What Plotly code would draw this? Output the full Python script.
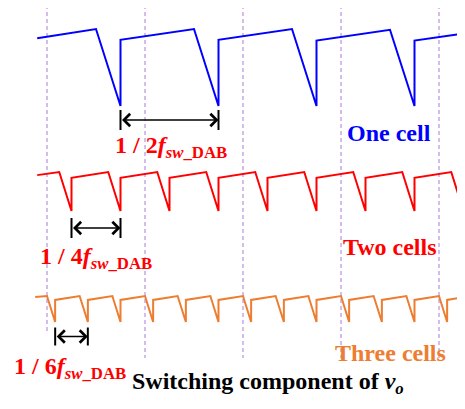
import plotly.graph_objects as go

W, H = 465, 409

# time axis in units of the one-cell ripple period (1/2 f_sw_DAB); values normalised 0..1
blue_t = [-0.10, 0.50, 0.75, 0.75, 1.50, 1.75, 1.75, 2.50, 2.75, 2.75, 3.50, 3.75, 3.75, 4.24]
blue_v = [0.88, 1.00, 0.00, 0.86, 1.00, 0.00, 0.86, 1.00, 0.00, 0.85, 0.99, 0.00, 0.85, 0.94]

red_t = [-0.10, 0.125, 0.25, 0.25, 0.625, 0.75, 0.75, 1.125, 1.25, 1.25, 1.625, 1.75, 1.75,
         2.125, 2.25, 2.25, 2.625, 2.75, 2.75, 3.125, 3.25, 3.25, 3.625, 3.75, 3.75, 4.125, 4.25]
red_v = [0.92, 1.00, 0.00, 0.85, 1.00, 0.00, 0.85, 1.00, 0.00, 0.85, 1.00, 0.00, 0.85,
         1.00, 0.00, 0.85, 1.00, 0.00, 0.85, 1.00, 0.00, 0.85, 1.00, 0.00, 0.85, 1.00, 0.00]

orange_t = [-0.12, 0.000, 0.083, 0.083, 0.333, 0.417, 0.417, 0.667, 0.750, 0.750,
            1.000, 1.083, 1.083, 1.333, 1.417, 1.417, 1.667, 1.750, 1.750,
            2.000, 2.083, 2.083, 2.333, 2.417, 2.417, 2.667, 2.750, 2.750,
            3.000, 3.083, 3.083, 3.333, 3.417, 3.417, 3.667, 3.750, 3.750,
            4.000, 4.083, 4.083, 4.245]
orange_v = [0.96, 1.00, 0.00, 0.85, 1.00, 0.00, 0.85, 1.00, 0.00, 0.85,
            1.00, 0.00, 0.85, 1.00, 0.00, 0.85, 1.00, 0.00, 0.85,
            1.00, 0.00, 0.85, 1.00, 0.00, 0.85, 1.00, 0.00, 0.85,
            1.00, 0.00, 0.85, 1.00, 0.00, 0.85, 1.00, 0.00, 0.85,
            1.00, 0.00, 0.85, 0.95]

dashed_t = [0, 1, 2, 3, 4]

# period intervals marked by the arrows (start, end) in time units
blue_interval = [0.75, 1.75]
red_interval = [0.25, 0.75]
orange_interval = [1 / 12, 5 / 12]

names = ["One cell", "Two cells", "Three cells"]
labels = ["1 / 2", "1 / 4", "1 / 6"]
title = "Switching component of "

BLUE, RED, ORANGE = "#0000FF", "#FF0000", "#ED7D31"
PURPLE = "rgb(170,125,220)"
FONT = "Liberation Serif"

# ---- layout geometry (reference pixel anchors; page body margin compensated) ----
OFF = 8.0
X0, XS = 47.0 - OFF, 98.0          # pixel of t=0, pixels per unit t
anch = {"y": (106.0 - OFF, 29.0 - OFF), "y2": (211.0 - OFF, 172.0 - OFF), "y3": (322.0 - OFF, 296.0 - OFF)}


def yrange(key):
    p0, p1 = anch[key]
    s = p0 - p1
    return [(p0 - H) / s, p0 / s]


def v_of(key, px):
    p0, p1 = anch[key]
    return (p0 - (px - OFF)) / (p0 - p1)


def xp(px):
    return (px - OFF) / W


def yp(px):
    return 1 - (px - OFF) / H


fig = go.Figure()
fig.add_trace(go.Scatter(x=blue_t, y=blue_v, mode="lines", line=dict(color=BLUE, width=2), yaxis="y"))
fig.add_trace(go.Scatter(x=red_t, y=red_v, mode="lines", line=dict(color=RED, width=2), yaxis="y2"))
fig.add_trace(go.Scatter(x=orange_t, y=orange_v, mode="lines", line=dict(color=ORANGE, width=2), yaxis="y3"))

shapes = []
for t in dashed_t:
    bottom = 333 if t == dashed_t[0] else 358
    shapes.append(dict(type="line", xref="x", yref="paper", x0=t, x1=t, y0=yp(5), y1=yp(bottom),
                       line=dict(color=PURPLE, width=1, dash="4px,3px"), layer="below"))

annotations = []
arrow_specs = [("y", blue_interval, 120, 10), ("y2", red_interval, 228, 10), ("y3", orange_interval, 336.5, 9)]
for key, (ta, tb), ypx, half in arrow_specs:
    v = v_of(key, ypx)
    for t in (ta, tb):
        shapes.append(dict(type="line", xref="x", yref=key, x0=t, x1=t,
                           y0=v_of(key, ypx - half), y1=v_of(key, ypx + half),
                           line=dict(color="black", width=2)))
    annotations.append(dict(x=tb, y=v, ax=ta, ay=v, xref="x", yref=key, axref="x", ayref=key,
                            text="", showarrow=True, arrowside="end+start",
                            arrowhead=4, startarrowhead=4, arrowsize=1.6, startarrowsize=1.6,
                            arrowwidth=1.5, arrowcolor="black", standoff=0, startstandoff=0))

lab_pos = [(170.5, 147), (96, 258), (70.5, 368)]
for lab, (cx, cy) in zip(labels, lab_pos):
    annotations.append(dict(xref="paper", yref="paper", x=xp(cx), y=yp(cy), xanchor="center", yanchor="middle",
                            showarrow=False,
                            text=f"<b>{lab}<i>f</i><sub><i>sw</i>_DAB</sub></b>",
                            font=dict(family=FONT, size=24, color=RED)))

name_pos = [(388.5, 133, BLUE), (390, 246.5, RED), (390, 353, ORANGE)]
for nm, (cx, cy, col) in zip(names, name_pos):
    annotations.append(dict(xref="paper", yref="paper", x=xp(cx), y=yp(cy), xanchor="center", yanchor="middle",
                            showarrow=False, text=f"<b>{nm}</b>",
                            font=dict(family=FONT, size=24, color=col)))

annotations.append(dict(xref="paper", yref="paper", x=xp(267.5), y=yp(383), xanchor="center", yanchor="middle",
                        showarrow=False, text=f"<b>{title}<i>v</i><sub><i>o</i></sub></b>",
                        font=dict(family=FONT, size=24, color="black")))

axis_common = dict(visible=False, showgrid=False, zeroline=False, fixedrange=True)
fig.update_layout(
    width=W, height=H, margin=dict(l=0, r=0, t=0, b=0),
    paper_bgcolor="white", plot_bgcolor="white", showlegend=False,
    font=dict(family=FONT),
    xaxis=dict(domain=[0, 1], range=[(0 - X0) / XS, (W - X0) / XS], **axis_common),
    yaxis=dict(domain=[0, 1], range=yrange("y"), **axis_common),
    yaxis2=dict(domain=[0, 1], range=yrange("y2"), overlaying="y", **axis_common),
    yaxis3=dict(domain=[0, 1], range=yrange("y3"), overlaying="y", **axis_common),
    shapes=shapes, annotations=annotations,
)

fig.write_html("out.html")
